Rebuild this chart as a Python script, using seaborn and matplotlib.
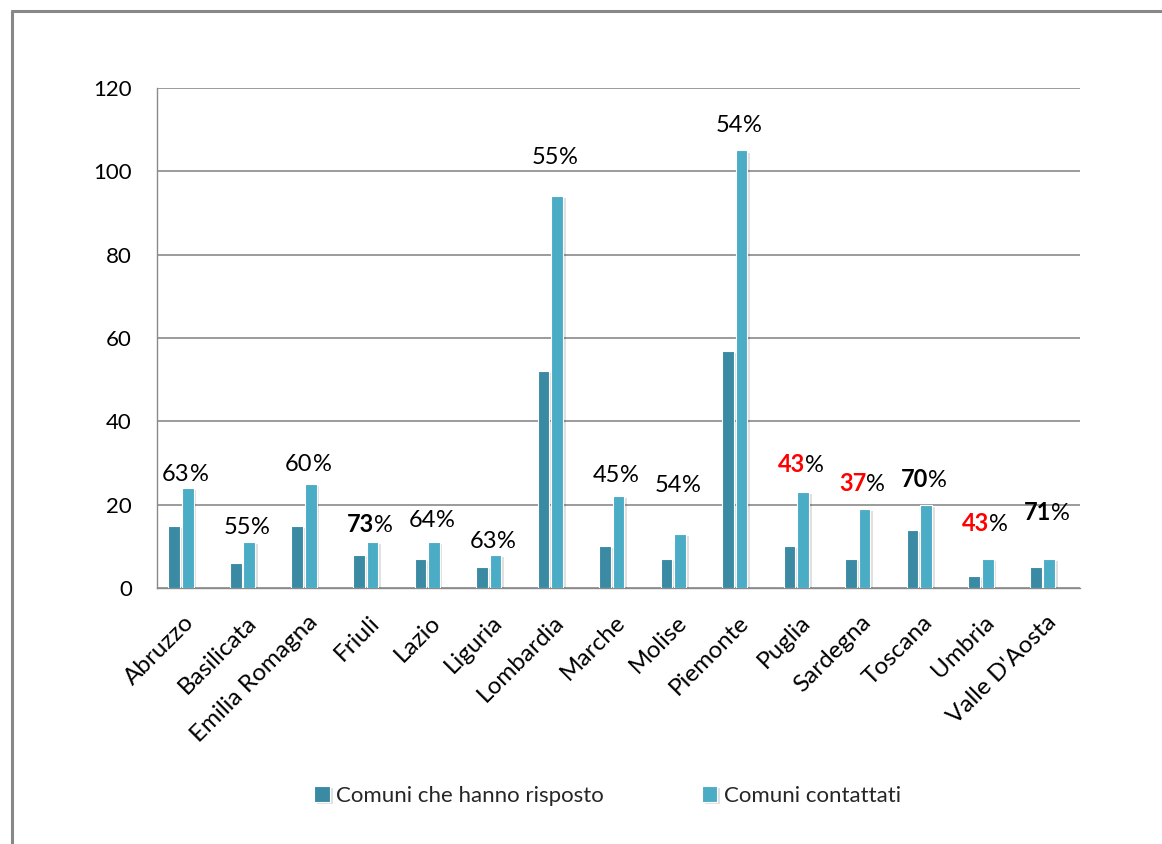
import numpy as np
import pandas as pd
import matplotlib
matplotlib.use("Agg")
import matplotlib.pyplot as plt
import matplotlib.patheffects as pe
import matplotlib.transforms as mtransforms
from matplotlib.lines import Line2D
import seaborn as sns

# Regions and counts of municipalities
regioni = ["Abruzzo", "Basilicata", "Emilia Romagna", "Friuli", "Lazio", "Liguria",
           "Lombardia", "Marche", "Molise", "Piemonte", "Puglia", "Sardegna",
           "Toscana", "Umbria", "Valle D'Aosta"]
risposto = [15, 6, 15, 8, 7, 5, 52, 10, 7, 57, 10, 7, 14, 3, 5]
contattati = [24, 11, 25, 11, 11, 8, 94, 22, 13, 105, 23, 19, 20, 7, 7]
serie = ["Comuni che hanno risposto", "Comuni contattati"]

# Response rate labels: number part text, its colour and weight
perc_num = ["63", "55", "60", "73", "64", "63", "55", "45", "54", "54", "43", "37", "70", "43", "71"]
perc_col = ["black", "black", "black", "black", "black", "black", "black", "black",
            "black", "black", "red", "red", "black", "red", "black"]
perc_bold = [False, False, False, True, False, False, False, False, False, False,
             True, True, True, True, True]
# vertical lift of each label above its bar (data units)
label_lift = [1.7, 1.9, 3.1, 2.4, 3.6, 1.7, 7.7, 3.4, 10.0, 4.4, 4.8, 4.3, 4.3, 6.7, 9.4]

DARK = "#3A8AA3"
LIGHT = "#4BACC6"
GRID = "#8A8A8A"
FONT = ["Lato", "DejaVu Sans"]

df = pd.DataFrame({
    "Regione": regioni * 2,
    "Comuni": risposto + contattati,
    "Serie": [serie[0]] * len(regioni) + [serie[1]] * len(regioni),
})

sns.set_theme(style="white")
plt.rcParams["font.family"] = FONT

fig = plt.figure(figsize=(11.62, 8.44), dpi=100)
ax = fig.add_axes([157 / 1162, 1 - 588 / 844, (1080 - 157) / 1162, 500 / 844])

sns.barplot(data=df, x="Regione", y="Comuni", hue="Serie", hue_order=serie,
            order=regioni, palette=[DARK, LIGHT], width=0.44, gap=0.14,
            saturation=1, errorbar=None, ax=ax, zorder=3, legend=True)

shadow = [pe.SimplePatchShadow(offset=(2, -1.5), shadow_rgbFace="black", alpha=0.12),
          pe.Normal()]
for p in ax.patches:
    p.set_x(p.get_x() - 0.11)
    p.set_edgecolor("white")
    p.set_linewidth(0.8)
    p.set_path_effects(shadow)

ax.set_ylim(0, 120)
ax.set_xlim(-0.5, len(regioni) - 0.5)
ax.set_yticks(np.arange(0, 121, 20))
ax.yaxis.grid(True, color=GRID, linewidth=1.2)
ax.set_axisbelow(True)
ax.set_xlabel("")
ax.set_ylabel("")
for s in ["top", "right"]:
    ax.spines[s].set_visible(False)
for s in ["left", "bottom"]:
    ax.spines[s].set_color(GRID)
    ax.spines[s].set_linewidth(1.0)

ax.tick_params(axis="y", length=4, color=GRID, pad=14, labelsize=16, labelcolor="black")
ax.tick_params(axis="x", length=0, pad=17, labelsize=17.5, labelcolor="black")
shift_left = mtransforms.ScaledTranslation(-4 / 100, 0, fig.dpi_scale_trans)
for lab in ax.get_xticklabels():
    lab.set_rotation(45)
    lab.set_ha("right")
    lab.set_rotation_mode("anchor")
    lab.set_transform(lab.get_transform() + shift_left)

# legend below the axes
handles, labels = ax.get_legend_handles_labels()
ax.legend(handles, labels, loc="center", bbox_to_anchor=(0.523, 0.057),
          bbox_transform=fig.transFigure, ncol=2, frameon=False, fontsize=16,
          handlelength=0.7, handleheight=0.7, handletextpad=0.3, columnspacing=4.4)

# response-rate labels: number (styled) followed by a plain "%"
num_texts, pct_texts = [], []
for i in range(len(regioni)):
    y = contattati[i] + label_lift[i]
    t1 = ax.text(i - 0.04, y, perc_num[i], color=perc_col[i],
                 fontweight="bold" if perc_bold[i] else "normal",
                 fontsize=17, ha="left", va="baseline", zorder=5)
    t2 = ax.text(i - 0.04, y, "%", color="black", fontsize=17,
                 ha="left", va="baseline", zorder=5)
    num_texts.append(t1)
    pct_texts.append(t2)

fig.canvas.draw()
r = fig.canvas.get_renderer()
for t1, t2 in zip(num_texts, pct_texts):
    w1 = t1.get_window_extent(r).width
    w2 = t2.get_window_extent(r).width
    tot = w1 + w2
    t1.set_transform(mtransforms.offset_copy(ax.transData, fig=fig, x=-tot / 2, y=0, units="dots"))
    t2.set_transform(mtransforms.offset_copy(ax.transData, fig=fig, x=-tot / 2 + w1, y=0, units="dots"))

# outer frame lines (left and top)
fx, fy = 12 / 1162, 1 - 11 / 844
fig.add_artist(Line2D([fx, fx], [0, fy], transform=fig.transFigure, color="#888888", linewidth=2.2))
fig.add_artist(Line2D([fx, 1], [fy, fy], transform=fig.transFigure, color="#888888", linewidth=2.2))

fig.savefig("out.png", dpi=100, facecolor="white")
